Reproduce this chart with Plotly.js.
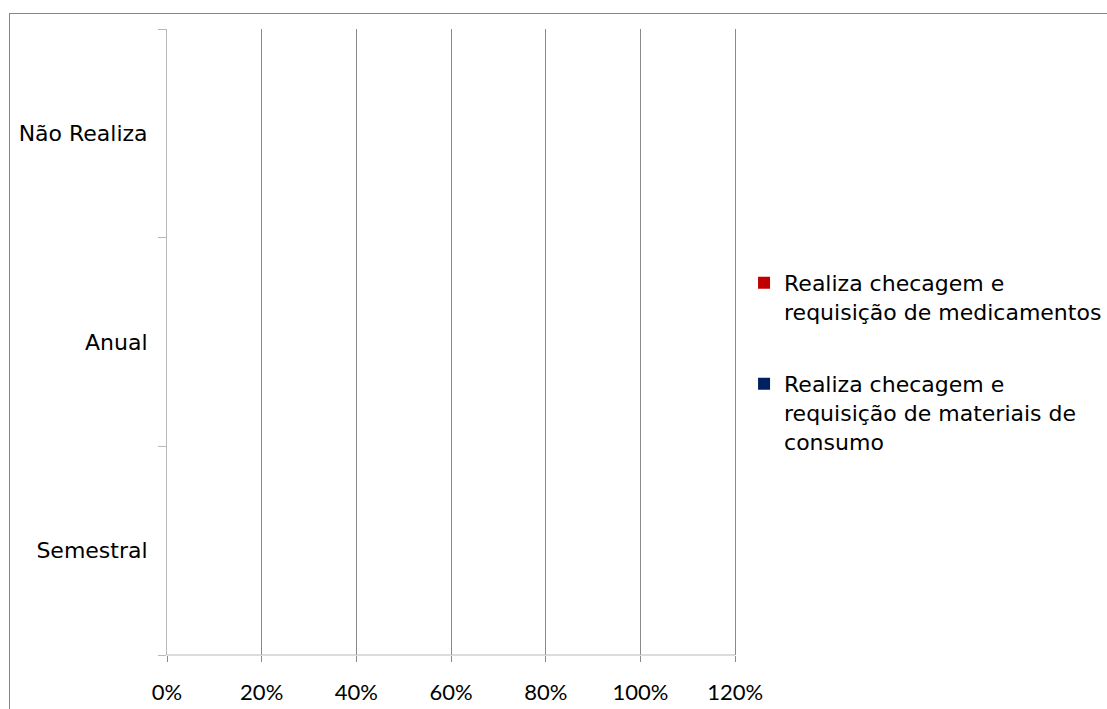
<!DOCTYPE html>
<html>
<head>
<meta charset="utf-8">
<script src="https://cdn.plot.ly/plotly-3.0.1.min.js"></script>
<style>
  html, body { margin: 0; padding: 0; background: #ffffff; }
  #wrap { position: relative; width: 1107px; height: 709px; overflow: hidden; }
  #chart { width: 1107px; height: 709px; }
  #frame {
    position: absolute; left: 9px; top: 13px; right: -2px; bottom: -2px;
    border-left: 1px solid #858585; border-top: 1px solid #858585;
    pointer-events: none;
  }
</style>
</head>
<body>
<div id="wrap">
  <div id="chart"></div>
  <div id="frame"></div>
</div>
<script>
// Frequency categories (bottom to top)
const categories = ['Semestral', 'Anual', 'Não Realiza'];

// Share of units per frequency, one series per checking activity
const seriesNames = [
  'Realiza checagem e<br>requisição de medicamentos',
  'Realiza checagem e<br>requisição de materiais de<br>consumo'
];
const medicamentos = [0, 0, 0];
const materiais = [0, 0, 0];

// X axis ticks
const xTickValues = [0, 0.2, 0.4, 0.6, 0.8, 1.0, 1.2];
const xTickLabels = ['0%', '20%', '40%', '60%', '80%', '100%', '120%'];

const traces = [
  {
    type: 'bar', orientation: 'h',
    name: seriesNames[0], legendgroup: 'med',
    y: categories, x: medicamentos,
    marker: { color: '#C00000', line: { width: 0 } }
  },
  {
    type: 'bar', orientation: 'h',
    name: seriesNames[1], legendgroup: 'mat',
    y: categories, x: materiais,
    marker: { color: '#002060', line: { width: 0 } }
  }
];

const layout = {
  width: 1107, height: 709,
  // a little room past 120% so its gridline is kept
  margin: { l: 167, r: 369, t: 29, b: 54, pad: 0, autoexpand: false },
  paper_bgcolor: '#ffffff',
  plot_bgcolor: '#ffffff',
  font: { family: 'DejaVu Sans, Arial, sans-serif', size: 22, color: '#000000' },
  barmode: 'group',
  showlegend: true,
  xaxis: {
    range: [0, 1.206],
    tickvals: xTickValues,
    ticktext: xTickLabels,
    showgrid: true, gridcolor: '#8a8a8a', gridwidth: 1,
    zeroline: false,
    showline: false,
    ticks: 'outside', ticklen: 6, tickcolor: '#8a8a8a', tickwidth: 1,
    tickfont: { family: 'Lato, Open Sans, sans-serif', size: 22, color: '#000000' },
    ticklabelstandoff: 12,
    fixedrange: true
  },
  yaxis: {
    type: 'category',
    categoryorder: 'array', categoryarray: categories,
    range: [-0.5, 2.5],
    showgrid: false, zeroline: false,
    showline: true, linecolor: '#b8b8b8', linewidth: 1,
    ticks: 'outside', tickson: 'boundaries', ticklen: 8, tickcolor: '#b8b8b8', tickwidth: 1,
    tickfont: { family: 'DejaVu Sans, Arial, sans-serif', size: 22, color: '#000000' },
    ticklabelstandoff: 14,
    fixedrange: true
  },
  shapes: [
    // category axis baseline from the left tick to 120%
    { type: 'line', xref: 'x', yref: 'paper', x0: 0, x1: 1.2, y0: 0, y1: 0,
      line: { color: '#b8b8b8', width: 1 }, layer: 'above' }
  ],
  legend: {
    x: 1.0106, xanchor: 'left',
    y: 0.628, yanchor: 'top',
    traceorder: 'grouped',
    tracegroupgap: 41,
    valign: 'top',
    bgcolor: 'rgba(0,0,0,0)',
    borderwidth: 0,
    font: { family: 'DejaVu Sans, Arial, sans-serif', size: 22, color: '#000000' }
  }
};

Plotly.newPlot('chart', traces, layout, { displayModeBar: false, staticPlot: true });
</script>
</body>
</html>
